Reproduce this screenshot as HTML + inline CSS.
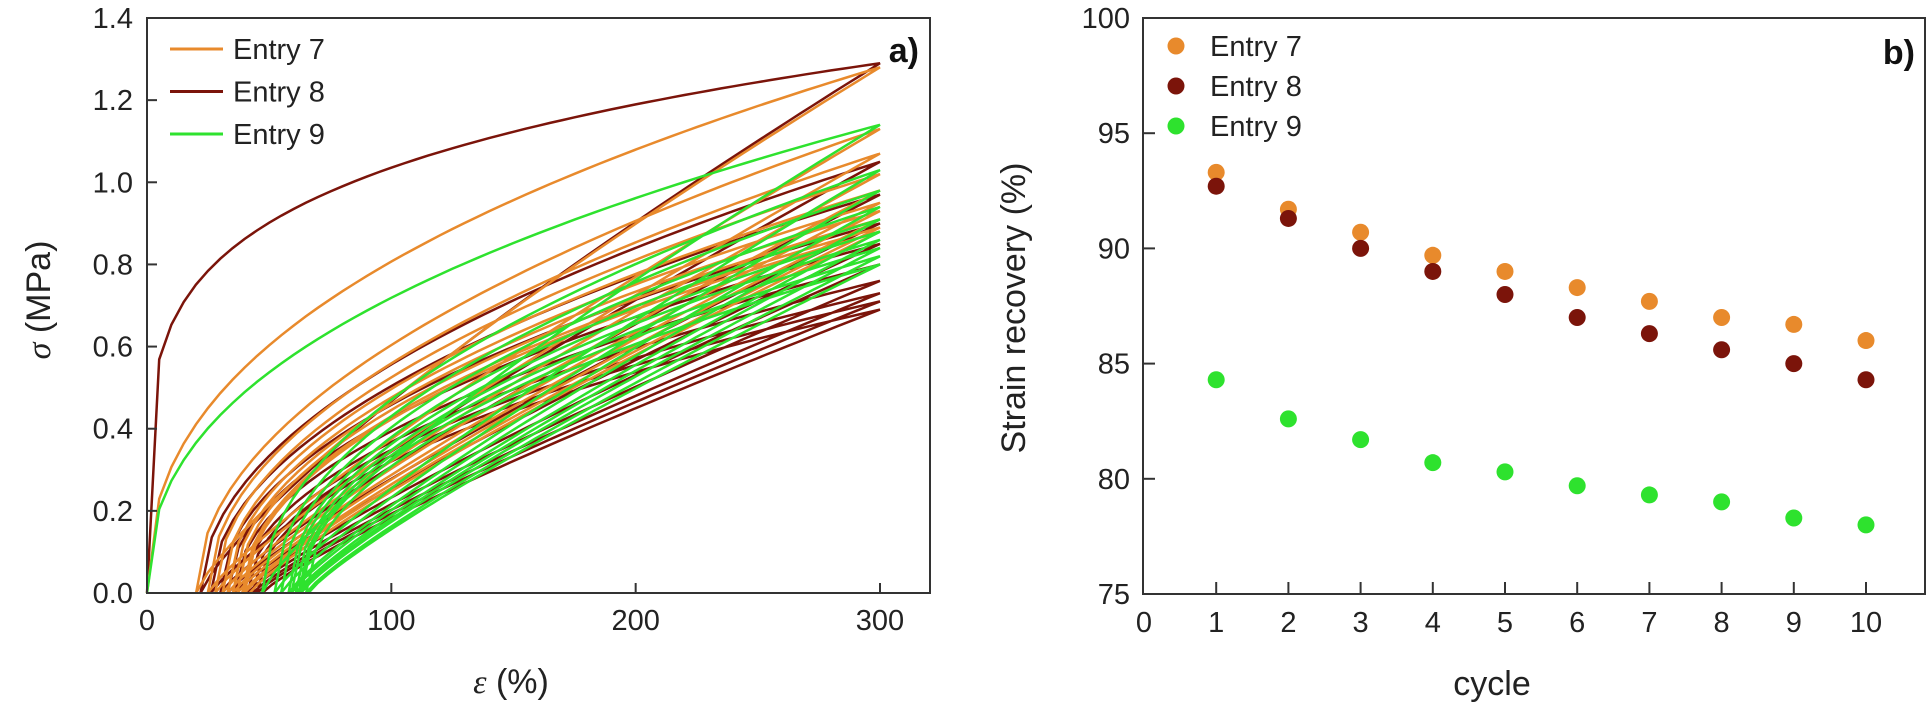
<!DOCTYPE html>
<html><head><meta charset="utf-8">
<style>
html,body{margin:0;padding:0;background:#fff;}
svg{display:block;font-family:"Liberation Sans",Arial,sans-serif;}
</style></head>
<body>
<svg id="fig" width="1932" height="709" viewBox="0 0 1932 709" xmlns="http://www.w3.org/2000/svg">
  <g id="pa"></g>
  <g id="pb"></g>
</svg>
<script>
// ---- data ----
const cycles = [1,2,3,4,5,6,7,8,9,10];
const recovery7 = [93.3,91.7,90.7,89.7,89.0,88.3,87.7,87.0,86.7,86.0];
const recovery8 = [92.7,91.3,90.0,89.0,88.0,87.0,86.3,85.6,85.0,84.3];
const recovery9 = [84.3,82.6,81.7,80.7,80.3,79.7,79.3,79.0,78.3,78.0];
const peakStress7 = [1.28,1.13,1.07,1.02,0.98,0.95,0.93,0.91,0.89,0.88];
const peakStress8 = [1.29,1.05,0.97,0.90,0.85,0.80,0.76,0.73,0.71,0.69];
const peakStress9 = [1.14,1.03,0.98,0.94,0.91,0.88,0.86,0.84,0.82,0.80];
const maxStrain = 300;
const xTicksA = [0,100,200,300];
const yTicksA = [0.0,0.2,0.4,0.6,0.8,1.0,1.2,1.4];
const xTicksB = [0,1,2,3,4,5,6,7,8,9,10];
const yTicksB = [75,80,85,90,95,100];
const seriesNames = ["Entry 7","Entry 8","Entry 9"];

const NS="http://www.w3.org/2000/svg";
const C7="#E88A2C", C8="#7B140A", C9="#2EE22E";
function mk(tag, attrs, parent){const e=document.createElementNS(NS,tag);for(const k in attrs)e.setAttribute(k,attrs[k]);parent.appendChild(e);return e;}

// ---- panel a ----
const pa=document.getElementById('pa');
const ax0=147, ax1=930, ay0=593, ay1=18;
const xA=v=>ax0+v*(880-147)/300;
const yA=v=>ay0-v*(ay0-ay1)/1.4;
function curvePath(entryPeaks, entryRec, firstP){
  let d="";
  let r=0;
  for(let i=0;i<entryPeaks.length;i++){
    const P=entryPeaks[i];
    const p=i===0?firstP:0.5;
    const pts=[];
    for(let s=0;s<=60;s++){const t=s/60;const e=r+(maxStrain-r)*t;pts.push([xA(e),yA(P*Math.pow(t,p))]);}
    const rn=maxStrain*(1-entryRec[i]/100);
    const q=i===0?0.8:0.85;
    for(let s=60;s>=0;s--){const t=s/60;const e=rn+(maxStrain-rn)*t;pts.push([xA(e),yA(P*Math.pow(t,q))]);}
    d+="M"+pts.map(z=>z[0].toFixed(1)+","+z[1].toFixed(1)).join("L");
    r=rn;
  }
  return d;
}
const c8=mk('path',{d:curvePath(peakStress8,recovery8,0.2),fill:'none',stroke:C8,'stroke-width':2.5},pa);


const c7=mk('path',{d:curvePath(peakStress7,recovery7,0.42),fill:'none',stroke:C7,'stroke-width':2.5},pa);


const c9=mk('path',{d:curvePath(peakStress9,recovery9,0.42),fill:'none',stroke:C9,'stroke-width':2.5},pa);



const fa=mk('rect',{x:ax0,y:ay1,width:ax1-ax0,height:ay0-ay1,fill:'none',stroke:'#333','stroke-width':2},pa);


xTicksA.forEach(v=>{
  mk('line',{x1:xA(v),x2:xA(v),y1:ay0,y2:ay0-10,stroke:'#333','stroke-width':2},pa);
  const t=mk('text',{x:xA(v),y:630,'font-size':29,'text-anchor':'middle',fill:'#222'},pa);t.textContent=v;
  
  
});
yTicksA.forEach(v=>{
  mk('line',{x1:ax0,x2:ax0+10,y1:yA(v),y2:yA(v),stroke:'#333','stroke-width':2},pa);
  const t=mk('text',{x:133,y:yA(v)+10,'font-size':29,'text-anchor':'end',fill:'#222'},pa);t.textContent=v.toFixed(1);
  
  
});
const xt=mk('text',{x:511,y:693,'font-size':34,'text-anchor':'middle',fill:'#222'},pa);
xt.innerHTML='<tspan font-style="italic" font-family="Liberation Serif">ε</tspan> (%)';


const yt=mk('text',{x:0,y:0,'font-size':34,'text-anchor':'middle',fill:'#222',transform:'translate(50,300) rotate(-90)'},pa);
yt.innerHTML='<tspan font-style="italic" font-family="Liberation Serif">σ</tspan> (MPa)';


const la=mk('text',{x:919,y:62,'font-size':34,'font-weight':'bold','text-anchor':'end',fill:'#111'},pa);la.textContent='a)';


[C7,C8,C9].forEach((c,i)=>{
  const y=49+i*42.5;
  const g=mk('g',{},pa);
  
  
  mk('line',{x1:170,x2:223,y1:y,y2:y,stroke:c,'stroke-width':3},g);
  const t=mk('text',{x:233,y:y+10,'font-size':29,fill:'#222'},g);t.textContent=seriesNames[i];
});

// ---- panel b ----
const pb=document.getElementById('pb');
const bx0=1143, bx1=1925, by0=594, by1=18;
const xB=v=>1144+v*72.2;
const yB=v=>by0-(v-75)*(by0-by1)/25;
const fb=mk('rect',{x:bx0,y:by1,width:bx1-bx0,height:by0-by1,fill:'none',stroke:'#333','stroke-width':2},pb);


xTicksB.forEach(v=>{
  if(v>0) mk('line',{x1:xB(v),x2:xB(v),y1:by0,y2:by0-12,stroke:'#333','stroke-width':2},pb);
  const t=mk('text',{x:xB(v),y:632,'font-size':29,'text-anchor':'middle',fill:'#222'},pb);t.textContent=v;
  
  
});
yTicksB.forEach(v=>{
  if(v>75&&v<100) mk('line',{x1:bx0,x2:bx0+12,y1:yB(v),y2:yB(v),stroke:'#333','stroke-width':2},pb);
  const t=mk('text',{x:1130,y:yB(v)+10,'font-size':29,'text-anchor':'end',fill:'#222'},pb);t.textContent=v;
  
  
});
const xbt=mk('text',{x:1492,y:695,'font-size':34,'text-anchor':'middle',fill:'#222'},pb);xbt.textContent='cycle';


const ybt=mk('text',{x:0,y:0,'font-size':34,'text-anchor':'middle',fill:'#222',transform:'translate(1025,308) rotate(-90)'},pb);ybt.textContent='Strain recovery (%)';


const lb=mk('text',{x:1915,y:64,'font-size':34,'font-weight':'bold','text-anchor':'end',fill:'#111'},pb);lb.textContent='b)';


[[recovery7,C7,'entry-7'],[recovery8,C8,'entry-8'],[recovery9,C9,'entry-9']].forEach(([arr,c,n])=>{
  arr.forEach((v,i)=>{
    const d=mk('circle',{cx:xB(cycles[i]),cy:yB(v),r:8.5,fill:c},pb);
    
    
  });
});
[C7,C8,C9].forEach((c,i)=>{
  const y=46+i*40;
  const g=mk('g',{},pb);
  
  
  mk('circle',{cx:1176,cy:y,r:8.5,fill:c},g);
  const t=mk('text',{x:1210,y:y+10,'font-size':29,fill:'#222'},g);t.textContent=seriesNames[i];
});
</script>
</body></html>
